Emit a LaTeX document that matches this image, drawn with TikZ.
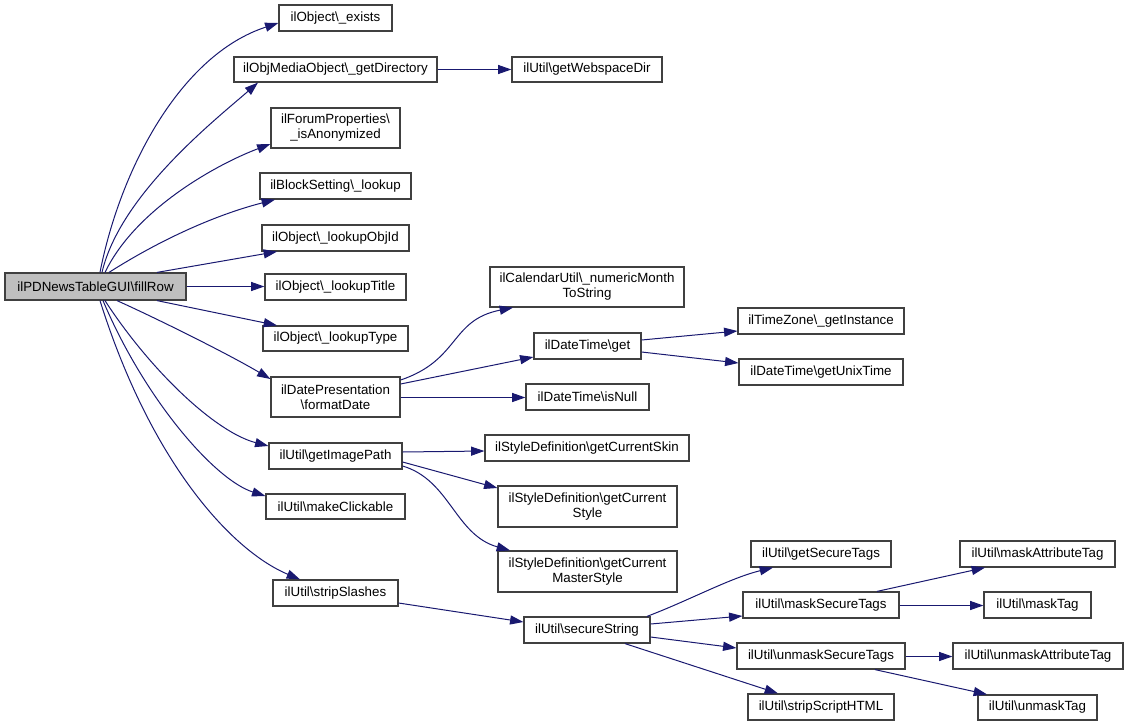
\documentclass[tikz,border=0pt]{standalone}
\usepackage{fontspec}
\setmainfont{Liberation Sans}
\usetikzlibrary{arrows.meta}
\definecolor{edgeblue}{HTML}{191970}
\definecolor{boxline}{HTML}{404040}
\newcommand\myBS{\textbackslash}
\newcommand\nodebox[7][]{\node[box,#1,minimum width={(#4-#2)*0.75pt},minimum height={(#5-#3)*0.75pt}] (#6) at ({(#2+#4)/2},{(#3+#5)/2}) {#7};}
\tikzset{
  box/.style={draw=boxline,line width=0.9pt,fill=white,inner sep=0pt,align=center,
    font=\fontsize{10}{11.3}\selectfont},
  rootbox/.style={fill={rgb,255:red,191;green,191;blue,191}},
  edge/.style={draw=edgeblue,line width=0.75pt,-{Triangle[length=10pt,width=6.8pt]}}
}
\begin{document}
\begin{tikzpicture}[x=0.75pt,y=-0.75pt]
\useasboundingbox (0,0) rectangle (1128,725);
% nodes
\nodebox[rootbox]{5}{273}{186}{300}{root}{ilPDNewsTableGUI\myBS fillRow}
\nodebox{279}{5}{392}{31}{exists}{ilObject\myBS\_exists}
\nodebox{234}{57}{437}{82}{getdir}{ilObjMediaObject\myBS\_getDirectory}
\nodebox{271}{108}{400}{148}{anon}{ilForumProperties\myBS\\\_isAnonymized}
\nodebox{260}{173}{411}{199}{block}{ilBlockSetting\myBS\_lookup}
\nodebox{262}{225}{409}{251}{objid}{ilObject\myBS\_lookupObjId}
\nodebox{265}{274}{406}{300}{title}{ilObject\myBS\_lookupTitle}
\nodebox{263}{326}{408}{351}{type}{ilObject\myBS\_lookupType}
\nodebox{271}{377}{400}{417}{fmt}{ilDatePresentation\\\myBS formatDate}
\nodebox{269}{443}{402}{469}{img}{ilUtil\myBS getImagePath}
\nodebox{266}{494}{405}{519}{mk}{ilUtil\myBS makeClickable}
\nodebox{273}{580}{398}{606}{strip}{ilUtil\myBS stripSlashes}
\nodebox{512}{57}{662}{82}{web}{ilUtil\myBS getWebspaceDir}
\nodebox{490}{267}{684}{307}{num}{ilCalendarUtil\myBS\_numericMonth\\ToString}
\nodebox{534}{333}{641}{359}{dtget}{ilDateTime\myBS get}
\nodebox{526}{384}{649}{410}{isnull}{ilDateTime\myBS isNull}
\nodebox{485}{435}{689}{461}{skin}{ilStyleDefinition\myBS getCurrentSkin}
\nodebox{498}{486}{677}{527}{style}{ilStyleDefinition\myBS getCurrent\\Style}
\nodebox{498}{551}{677}{592}{master}{ilStyleDefinition\myBS getCurrent\\MasterStyle}
\nodebox{524}{617}{650}{643}{secure}{ilUtil\myBS secureString}
\nodebox{738}{308}{904}{334}{tz}{ilTimeZone\myBS\_getInstance}
\nodebox{739}{359}{903}{385}{unix}{ilDateTime\myBS getUnixTime}
\nodebox{751}{541}{891}{567}{gst}{ilUtil\myBS getSecureTags}
\nodebox{743}{592}{899}{618}{mst}{ilUtil\myBS maskSecureTags}
\nodebox{737}{643}{905}{669}{umst}{ilUtil\myBS unmaskSecureTags}
\nodebox{748}{694}{894}{720}{ssh}{ilUtil\myBS stripScriptHTML}
\nodebox{960}{541}{1115}{567}{mat}{ilUtil\myBS maskAttributeTag}
\nodebox{984}{592}{1091}{618}{mtag}{ilUtil\myBS maskTag}
\nodebox{953}{643}{1123}{669}{uat}{ilUtil\myBS unmaskAttributeTag}
\nodebox{978}{695}{1097}{720}{utag}{ilUtil\myBS unmaskTag}
% edges from root
\draw[edge] (root.north -| 100,0) .. controls (120,170) and (180,55) .. (exists.west |- 0,23);
\draw[edge] (root.north -| 102,0) .. controls (120,195) and (215,120) .. (getdir.south -| 258,0);
\draw[edge] (root.north -| 105,0) .. controls (135,210) and (215,165) .. (anon.west |- 0,144);
\draw[edge] (root.north -| 109,0) .. controls (160,240) and (215,215) .. (block.south -| 275,0);
\draw[edge] (root.north -| 157,0) -- (objid.south -| 277,0);
\draw[edge] (root.east |- 0,286.5) -- (title.west |- 0,286.5);
\draw[edge] (root.south -| 157,0) -- (type.north -| 277,0);
\draw[edge] (root.south -| 117,0) .. controls (160,320) and (230,355) .. (fmt.west |- 0,379);
\draw[edge] (root.south -| 105,0) .. controls (150,370) and (215,432) .. (img.west |- 0,446);
\draw[edge] (root.south -| 103,0) .. controls (145,400) and (215,480) .. (mk.west |- 0,496);
\draw[edge] (root.south -| 100,0) .. controls (150,460) and (230,550) .. (strip.north -| 300,0);
% second level
\draw[edge] (getdir.east) -- (web.west);
\draw[edge] (fmt.east |- 0,380) .. controls (460,360) and (450,320) .. (num.south -| 513,0);
\draw[edge] (fmt.east |- 0,384) -- (dtget.west |- 0,357);
\draw[edge] (fmt.east |- 0,397.5) -- (isnull.west |- 0,397.5);
\draw[edge] (dtget.east |- 0,340) -- (tz.west |- 0,331);
\draw[edge] (dtget.east |- 0,352) -- (unix.west |- 0,363);
\draw[edge] (img.east |- 0,452) -- (skin.west |- 0,451);
\draw[edge] (img.east |- 0,462) -- (style.west |- 0,488);
\draw[edge] (img.east |- 0,466) .. controls (450,480) and (455,535) .. (master.north -| 510,0);
\draw[edge] (strip.east |- 0,603) -- (secure.west |- 0,622);
\draw[edge] (secure.north -| 647,0) .. controls (690,600) and (730,578) .. (gst.south -| 773,0);
\draw[edge] (secure.east |- 0,624) -- (mst.west |- 0,616);
\draw[edge] (secure.east |- 0,637) -- (umst.west |- 0,648);
\draw[edge] (secure.south -| 625,0) -- (ssh.north -| 778,0);
\draw[edge] (mst.north -| 877,0) -- (mat.south -| 985,0);
\draw[edge] (mst.east |- 0,605.5) -- (mtag.west |- 0,605.5);
\draw[edge] (umst.east |- 0,656.5) -- (uat.west |- 0,656.5);
\draw[edge] (umst.south -| 875,0) -- (utag.north -| 987,0);
\end{tikzpicture}
\end{document}
